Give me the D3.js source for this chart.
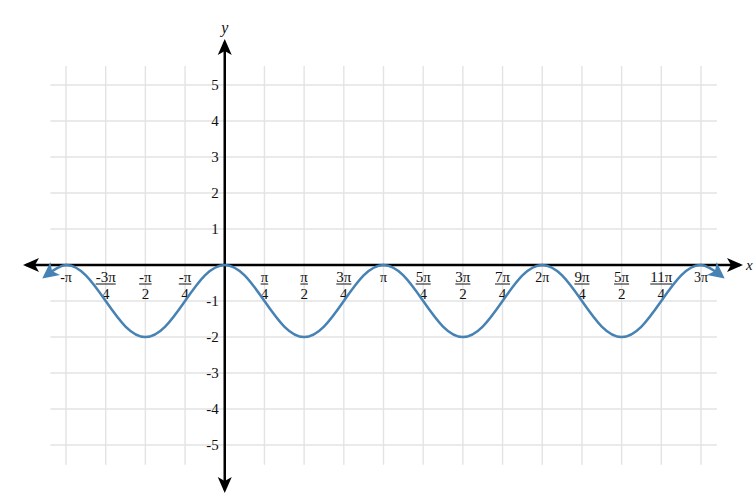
<!DOCTYPE html>
<html>
<head>
<meta charset="utf-8">
<script src="https://cdn.jsdelivr.net/npm/d3@7/dist/d3.min.js"></script>
<style>
  html, body { margin: 0; padding: 0; background: #fff; }
  svg { display: block; }
  text { font-family: "Liberation Serif", "DejaVu Serif", serif; fill: #111; }
</style>
</head>
<body>
<svg id="chart" width="756" height="502"></svg>
<script>
// ---- data ----
// x positions of curve samples, in multiples of pi/8
const curveStepsPiOver8 = [-9,-8,-7,-6,-5,-4,-3,-2,-1,0,1,2,3,4,5,6,7,8,9,10,11,12,13,14,15,16,17,18,19,20,21,22,23,24,25];
// y values
const curveValues = [-0.29,0,-0.29,-1,-1.71,-2,-1.71,-1,-0.29,0,-0.29,-1,-1.71,-2,-1.71,-1,-0.29,0,-0.29,-1,-1.71,-2,-1.71,-1,-0.29,0,-0.29,-1,-1.71,-2,-1.71,-1,-0.29,0,-0.29];
// x ticks in multiples of pi/4
const xTickQuarters = [-4,-3,-2,-1,1,2,3,4,5,6,7,8,9,10,11,12];
const xTickLabels = [["-π"],["-3π","4"],["-π","2"],["-π","4"],["π","4"],["π","2"],["3π","4"],["π"],["5π","4"],["3π","2"],["7π","4"],["2π"],["9π","4"],["5π","2"],["11π","4"],["3π"]];
const gridQuarters = [-4,-3,-2,-1,0,1,2,3,4,5,6,7,8,9,10,11,12];
const yTicks = [-5,-4,-3,-2,-1,1,2,3,4,5];
const yGrid = [-5,-4,-3,-2,-1,0,1,2,3,4,5];

const PI = Math.PI;
const svg = d3.select("#chart");
const x = d3.scaleLinear().domain([-PI, 3*PI]).range([66, 701]);
const y = d3.scaleLinear().domain([-5, 5]).range([445, 85]);
const x0 = x(0), y0 = y(0);

// grid
const grid = svg.append("g").attr("stroke", "#e3e3e3").attr("stroke-width", 1.4);
grid.selectAll("line.v").data(gridQuarters).enter().append("line")
  .attr("x1", d => x(d*PI/4)).attr("x2", d => x(d*PI/4))
  .attr("y1", y(5.53)).attr("y2", y(-5.55));
grid.selectAll("line.h").data(yGrid).enter().append("line")
  .attr("y1", d => y(d)).attr("y2", d => y(d))
  .attr("x1", x(-3.45)).attr("x2", x(9.74));

// axes
function stealth(g, tx, ty, angle) {
  g.append("path")
    .attr("d", "M0,0 L-16,-7 L-12,0 L-16,7 Z")
    .attr("transform", `translate(${tx},${ty}) rotate(${angle})`)
    .attr("fill", "#000");
}
const ax = svg.append("g");
ax.append("line").attr("x1", 26).attr("x2", 740).attr("y1", y0).attr("y2", y0)
  .attr("stroke", "#000").attr("stroke-width", 2.5);
ax.append("line").attr("x1", x0).attr("x2", x0).attr("y1", 42).attr("y2", 490)
  .attr("stroke", "#000").attr("stroke-width", 2.5);
stealth(ax, 743, y0, 0);
stealth(ax, 23, y0, 180);
stealth(ax, x0, 39, -90);
stealth(ax, x0, 493, 90);

svg.append("text").attr("x", x0).attr("y", 33).attr("text-anchor", "middle")
  .attr("font-style", "italic").attr("font-size", 16).text("y");
svg.append("text").attr("x", 746).attr("y", 270).attr("text-anchor", "start")
  .attr("font-style", "italic").attr("font-size", 15).text("x");

// y tick labels
svg.append("g").selectAll("text").data(yTicks).enter().append("text")
  .attr("x", x0 - 6).attr("y", d => y(d) + 5)
  .attr("text-anchor", "end").attr("font-size", 15)
  .text(d => d);

// x tick labels
const xl = svg.append("g");
xTickQuarters.forEach((q, i) => {
  const lab = xTickLabels[i];
  const cx = x(q*PI/4);
  if (lab.length === 1) {
    xl.append("text").attr("x", cx).attr("y", 282).attr("text-anchor", "middle")
      .attr("font-size", 14).text(lab[0]);
  } else {
    const t = xl.append("text").attr("x", cx).attr("y", 282).attr("text-anchor", "middle")
      .attr("font-size", 15).text(lab[0]);
    const w = t.node().getComputedTextLength();
    xl.append("line").attr("x1", cx - w/2).attr("x2", cx + w/2)
      .attr("y1", 284).attr("y2", 284).attr("stroke", "#111").attr("stroke-width", 1);
    xl.append("text").attr("x", cx).attr("y", 299).attr("text-anchor", "middle")
      .attr("font-size", 15).text(lab[1]);
  }
});

// curve
const defs = svg.append("defs");
defs.append("marker").attr("id", "bluearrow")
  .attr("viewBox", "0 0 10 10").attr("refX", 7).attr("refY", 5)
  .attr("markerWidth", 6.5).attr("markerHeight", 6.5)
  .attr("markerUnits", "strokeWidth")
  .attr("orient", "auto-start-reverse")
  .append("path").attr("d", "M0,0 L10,5 L0,10 L2.5,5 Z").attr("fill", "#4682b4");

const pts = curveStepsPiOver8.map((k, i) => [k*PI/8, curveValues[i]]);
const line = d3.line().x(d => x(d[0])).y(d => y(d[1])).curve(d3.curveNatural);
svg.append("path").datum(pts).attr("d", line)
  .attr("fill", "none").attr("stroke", "#4682b4").attr("stroke-width", 2.5)
  .attr("marker-start", "url(#bluearrow)").attr("marker-end", "url(#bluearrow)");
</script>
</body>
</html>
